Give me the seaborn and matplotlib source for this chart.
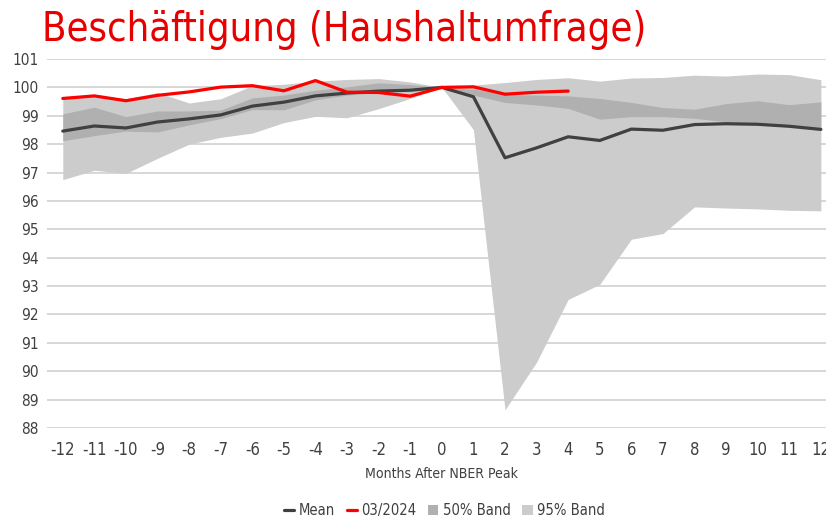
import numpy as np
import pandas as pd
import seaborn as sns
import matplotlib
matplotlib.use('Agg')
import matplotlib.pyplot as plt
from matplotlib import font_manager as fm
from matplotlib.lines import Line2D
from matplotlib.patches import Patch

# Monate relativ zum NBER-Peak
months = list(range(-12, 13))

mean = [98.46, 98.64, 98.57, 98.78, 98.89, 99.03, 99.34, 99.48, 99.70, 99.80, 99.87, 99.90, 100.0,
        99.67, 97.52, 97.87, 98.26, 98.13, 98.53, 98.49, 98.69, 98.72, 98.70, 98.63, 98.52]

# aktuelle Episode 03/2024 (nur bis Monat 4)
cur_months = list(range(-12, 5))
cur = [99.61, 99.70, 99.53, 99.72, 99.84, 100.01, 100.06, 99.88, 100.24, 99.83, 99.82, 99.69, 100.0,
       100.02, 99.76, 99.83, 99.87]

band50_hi = [99.07, 99.30, 98.97, 99.17, 99.17, 99.20, 99.63, 99.73, 99.90, 100.02, 100.16, 100.10, 100.0,
             99.94, 99.75, 99.73, 99.70, 99.61, 99.47, 99.29, 99.23, 99.43, 99.53, 99.39, 99.49]
band50_lo = [98.12, 98.30, 98.46, 98.43, 98.68, 98.90, 99.22, 99.21, 99.56, 99.73, 99.81, 99.90, 100.0,
             99.73, 99.47, 99.38, 99.26, 98.88, 98.97, 98.97, 98.91, 98.79, 98.70, 98.64, 98.55]

band95_hi = [99.62, 99.68, 99.60, 99.82, 99.45, 99.60, 100.06, 100.11, 100.22, 100.28, 100.31, 100.19, 100.0,
             100.08, 100.17, 100.28, 100.34, 100.22, 100.33, 100.35, 100.43, 100.40, 100.47, 100.45, 100.27]
band95_lo = [96.75, 97.08, 96.97, 97.50, 98.00, 98.24, 98.39, 98.76, 98.98, 98.93, 99.25, 99.61, 100.0,
             98.51, 88.64, 90.32, 92.53, 93.06, 94.65, 94.85, 95.79, 95.75, 95.72, 95.67, 95.65]

df = pd.DataFrame({'month': months, 'mean': mean,
                   'b50_hi': band50_hi, 'b50_lo': band50_lo,
                   'b95_hi': band95_hi, 'b95_lo': band95_lo})
df_cur = pd.DataFrame({'month': cur_months, 'value': cur})

sns.set_style('white')

# schmale Schrift suchen (Original nutzt eine Condensed-Schrift)
fonts = fm.fontManager.ttflist
names = {f.name for f in fonts}
condensed_dejavu = any(f.name == 'DejaVu Sans' and 'condensed' in str(f.stretch) for f in fonts)
if 'Liberation Sans Narrow' in names:
    plt.rcParams['font.family'] = ['Liberation Sans Narrow', 'DejaVu Sans']
    scale = 1.0
elif condensed_dejavu:
    plt.rcParams['font.family'] = ['DejaVu Sans']
    plt.rcParams['font.stretch'] = 'condensed'
    scale = 0.92
else:
    plt.rcParams['font.family'] = ['Roboto', 'DejaVu Sans']
    scale = 0.9

text_col = '#404040'
grid_col = '#d4d4d4'

fig = plt.figure(figsize=(8.26, 5.24), dpi=100)
# Achse läuft rechts etwas aus dem Bild (wie im Original abgeschnitten)
ax = fig.add_axes([0.0569, 0.1832, 0.956, 0.7042])

ax.fill_between(df['month'], df['b95_lo'], df['b95_hi'], color='#cccccc', linewidth=0, zorder=2)
ax.fill_between(df['month'], df['b50_lo'], df['b50_hi'], color='#b0b0b0', linewidth=0, zorder=3)
sns.lineplot(data=df, x='month', y='mean', color='#404040', linewidth=2.3, ax=ax, zorder=4)
sns.lineplot(data=df_cur, x='month', y='value', color='#ff0000', linewidth=2.3, ax=ax, zorder=5)

ax.set_xlim(-12.5, 12.5)
ax.set_ylim(88, 101)
ax.set_yticks(range(88, 102))
ax.yaxis.grid(True, color=grid_col, linewidth=1.3, zorder=1)
ax.set_axisbelow(True)
for s in ax.spines.values():
    s.set_visible(False)

ax.set_xticks(months)
ax.set_xticklabels([str(m) for m in months])
ax.set_xticks(np.arange(-12.5, 13, 1), minor=True)
ax.tick_params(axis='x', which='major', length=0, labelsize=13 * scale, colors=text_col, pad=9)
ax.tick_params(axis='x', which='minor', length=4, width=1, color='#a0a0a0')
ax.tick_params(axis='y', length=0, labelsize=12 * scale, colors=text_col, pad=6)

ax.set_xlabel('Months After NBER Peak', fontsize=11 * scale, color=text_col, labelpad=6)
ax.set_ylabel('')

fig.text(0.051, 0.922, 'Beschäftigung (Haushaltumfrage)', color='#e60000', fontsize=31 * scale)

handles = [Line2D([0], [0], color='#404040', linewidth=2.3),
           Line2D([0], [0], color='#ff0000', linewidth=2.3),
           Patch(facecolor='#b0b0b0', edgecolor='none'),
           Patch(facecolor='#cccccc', edgecolor='none')]
labels = ['Mean', '03/2024', '50% Band', '95% Band']
fig.legend(handles, labels, loc='center', bbox_to_anchor=(0.538, 0.026), ncol=4, frameon=False,
           fontsize=11.5 * scale, handlelength=0.7, handleheight=0.7, handletextpad=0.3,
           columnspacing=0.8, labelcolor=text_col)

fig.savefig('out.png', dpi=100)
